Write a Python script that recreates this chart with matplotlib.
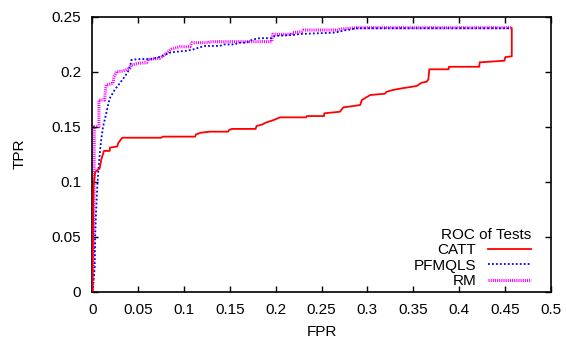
import matplotlib
matplotlib.use("Agg")
import matplotlib.pyplot as plt

plt.rcParams['font.family'] = ['Liberation Sans', 'DejaVu Sans']

catt_fpr = [0, 0.001, 0.0013, 0.003, 0.0078, 0.0096, 0.0125, 0.0188, 0.019, 0.027, 0.028, 0.0297, 0.0325,
            0.075, 0.077, 0.112, 0.113, 0.118, 0.128, 0.148, 0.149, 0.152, 0.178, 0.179, 0.185, 0.190,
            0.1975, 0.2046, 0.233, 0.234, 0.2526, 0.2530, 0.270, 0.2737, 0.2846, 0.292, 0.294, 0.303,
            0.319, 0.321, 0.328, 0.3375, 0.3446, 0.3537, 0.359, 0.3646, 0.3665, 0.3675, 0.3885, 0.389,
            0.422, 0.4225, 0.4495, 0.4505, 0.4575, 0.4575]
catt_tpr = [0, 0.09, 0.0985, 0.109, 0.112, 0.120, 0.128, 0.128, 0.131, 0.132, 0.135, 0.137, 0.140,
            0.140, 0.141, 0.141, 0.143, 0.1445, 0.1455, 0.1455, 0.147, 0.148, 0.148, 0.1506, 0.152, 0.154,
            0.156, 0.1585, 0.1585, 0.1597, 0.1597, 0.1622, 0.1636, 0.1676, 0.1688, 0.1697, 0.1743, 0.1788,
            0.180, 0.1818, 0.1834, 0.1849, 0.1858, 0.187, 0.190, 0.1909, 0.193, 0.2022, 0.2022, 0.2045,
            0.2045, 0.2085, 0.210, 0.2133, 0.2140, 0.2395]

pf_fpr = [0, 0.0025, 0.003, 0.004, 0.0052, 0.0067, 0.009, 0.0115, 0.015, 0.0165, 0.0188, 0.0242,
          0.0297, 0.0351, 0.0387, 0.0417, 0.0424, 0.0497, 0.0646, 0.0737, 0.0846, 0.092, 0.1024, 0.110,
          0.1173, 0.1228, 0.139, 0.143, 0.1555, 0.1591, 0.1682, 0.1719, 0.1755, 0.1828, 0.1956, 0.1991,
          0.2191, 0.2264, 0.2446, 0.2628, 0.270, 0.2737, 0.281, 0.2874, 0.4575]
pf_tpr = [0, 0.0227, 0.053, 0.074, 0.0955, 0.1136, 0.135, 0.150, 0.162, 0.168, 0.1758, 0.1834,
          0.1894, 0.1955, 0.200, 0.2076, 0.2106, 0.2115, 0.2115, 0.2136, 0.2173, 0.2182, 0.219, 0.2203,
          0.2222, 0.2234, 0.2234, 0.2248, 0.2248, 0.2264, 0.2264, 0.2282, 0.2294, 0.2305, 0.2305, 0.2325,
          0.2334, 0.2343, 0.2349, 0.2355, 0.2364, 0.2375, 0.2383, 0.2395, 0.2395]

rm_fpr = [0, 0.0015, 0.002, 0.007, 0.007, 0.0133, 0.014, 0.015, 0.0224, 0.0235, 0.026, 0.0333,
          0.0406, 0.0424, 0.0497, 0.059, 0.0606, 0.0735, 0.077, 0.0806, 0.086, 0.0952, 0.1064, 0.1082,
          0.1264, 0.1282, 0.1955, 0.1966, 0.2174, 0.2184, 0.2284, 0.2302, 0.268, 0.2701, 0.281, 0.2883,
          0.4575]
rm_tpr = [0, 0.05, 0.150, 0.150, 0.1743, 0.1743, 0.1818, 0.188, 0.1894, 0.1955, 0.200, 0.2006,
          0.2031, 0.2061, 0.2076, 0.2082, 0.2112, 0.2122, 0.2143, 0.2167, 0.2205, 0.2227, 0.2227, 0.2264,
          0.2264, 0.2273, 0.2273, 0.234, 0.234, 0.2355, 0.2364, 0.2379, 0.2379, 0.2387, 0.2395, 0.2400,
          0.2400]

x_ticks = [0, 0.05, 0.1, 0.15, 0.2, 0.25, 0.3, 0.35, 0.4, 0.45, 0.5]
x_labels = ["0", "0.05", "0.1", "0.15", "0.2", "0.25", "0.3", "0.35", "0.4", "0.45", "0.5"]
y_ticks = [0, 0.05, 0.1, 0.15, 0.2, 0.25]
y_labels = ["0", "0.05", "0.1", "0.15", "0.2", "0.25"]

fig = plt.figure(figsize=(5.66, 3.39), dpi=100)
ax = fig.add_axes([0.1634, 0.1395, 0.973 - 0.1634, 0.9507 - 0.1395])

ax.plot(catt_fpr, catt_tpr, color='#ff0000', lw=1.3, label='CATT', zorder=3)
ax.plot(pf_fpr, pf_tpr, color='#0000ff', lw=1.3, linestyle=(0, (1, 1.2)), label='PFMQLS', zorder=2)
ax.plot(rm_fpr, rm_tpr, color='#ff00ff', lw=2.2, linestyle=(0, (0.35, 0.35)), label='RM', zorder=1)

ax.set_xlim(0, 0.5)
ax.set_ylim(0, 0.25)
ax.set_xticks(x_ticks)
ax.set_xticklabels(x_labels)
ax.set_yticks(y_ticks)
ax.set_yticklabels(y_labels)
ax.tick_params(direction='in', length=4, width=1, top=True, right=True, labelsize=11, pad=8)
for s in ax.spines.values():
    s.set_linewidth(1.2)

ax.set_xlabel('FPR', fontsize=11, labelpad=6)
ax.set_ylabel('TPR', fontsize=11, labelpad=18)

leg = ax.legend(loc='lower right', bbox_to_anchor=(0.974, -0.015), frameon=False, markerfirst=False,
                title='ROC of Tests', fontsize=11, title_fontsize=11, handlelength=2.8,
                labelspacing=0.1, handletextpad=0.8, borderaxespad=0.2, borderpad=0.3,
                alignment='right')
for t in leg.get_texts():
    t.set_ha('right')

fig.savefig('out.png', dpi=100)
